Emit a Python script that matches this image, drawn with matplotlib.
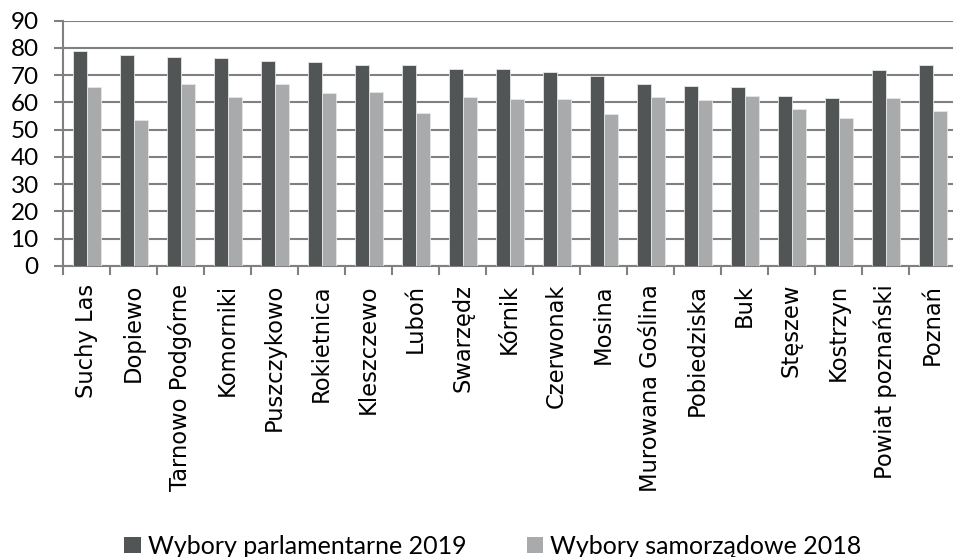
import matplotlib
matplotlib.use("Agg")
import matplotlib.pyplot as plt
import numpy as np
from matplotlib.patches import Patch

categories = ["Suchy Las", "Dopiewo", "Tarnowo Podgórne", "Komorniki", "Puszczykowo",
              "Rokietnica", "Kleszczewo", "Luboń", "Swarzędz", "Kórnik", "Czerwonak",
              "Mosina", "Murowana Goślina", "Pobiedziska", "Buk", "Stęszew", "Kostrzyn",
              "Powiat poznański", "Poznań"]
parl_2019 = [78.9, 77.3, 76.7, 76.2, 75.2, 74.9, 73.9, 73.8, 72.4, 72.1, 71.2,
             69.7, 66.6, 65.9, 65.7, 62.3, 61.5, 71.9, 73.8]
samo_2018 = [65.6, 53.5, 66.6, 62.0, 66.7, 63.3, 63.7, 56.0, 61.9, 61.3, 61.2,
             55.6, 62.0, 60.8, 62.2, 57.5, 54.2, 61.5, 57.0]
series_names = ["Wybory parlamentarne 2019", "Wybory samorządowe 2018"]
yticks = list(range(0, 91, 10))

dark = "#515555"
light = "#A9AAAB"
grid_c = "#808080"

W, H = 954, 557
fig = plt.figure(figsize=(W / 100, H / 100), dpi=100)
ax = fig.add_axes([63 / W, 1 - 266 / H, 893 / W, (266 - 20.7) / H])

x = np.arange(len(categories))
bw = 0.29
ax.bar(x - bw / 2 + 0.01, parl_2019, bw, color=dark, edgecolor="#e6e6e6", linewidth=0.6, zorder=3)
ax.bar(x + bw / 2 + 0.01, samo_2018, bw, color=light, edgecolor="#e6e6e6", linewidth=0.6, zorder=3)

ax.set_xlim(-0.5, len(categories) - 0.5)
ax.set_ylim(0, 90)
ax.set_yticks(yticks)
ax.set_yticklabels([str(v) for v in yticks], fontfamily="Lato", fontsize=17.5)
ax.yaxis.grid(True, color=grid_c, linewidth=1.5, zorder=0)
ax.set_axisbelow(True)

ax.set_xticks(np.arange(len(categories) + 1) - 0.5)
ax.set_xticklabels([])
ax.set_xticks(x, minor=True)
ax.set_xticklabels(categories, minor=True, rotation=90, fontfamily="DejaVu Sans",
                   fontsize=16.3, va="top", ha="center")
ax.tick_params(axis="x", which="minor", length=0, pad=13)
ax.tick_params(axis="x", which="major", length=6.5, width=1.5, color=grid_c)
ax.tick_params(axis="y", length=6.5, width=1.5, color=grid_c, pad=11)

for s in ["top", "right"]:
    ax.spines[s].set_visible(False)
for s in ["left", "bottom"]:
    ax.spines[s].set_color(grid_c)
    ax.spines[s].set_linewidth(1.5)

handles = [Patch(facecolor=dark, edgecolor="none"), Patch(facecolor=light, edgecolor="none")]
fig.legend(handles, series_names, loc="center", bbox_to_anchor=(493 / W, 1 - 546 / H),
           ncol=2, frameon=False, prop={"family": "Lato", "size": 18},
           handlelength=0.65, handleheight=0.62, handletextpad=0.3, columnspacing=2.4,
           borderpad=0, borderaxespad=0)

fig.savefig("out.png", dpi=100)
